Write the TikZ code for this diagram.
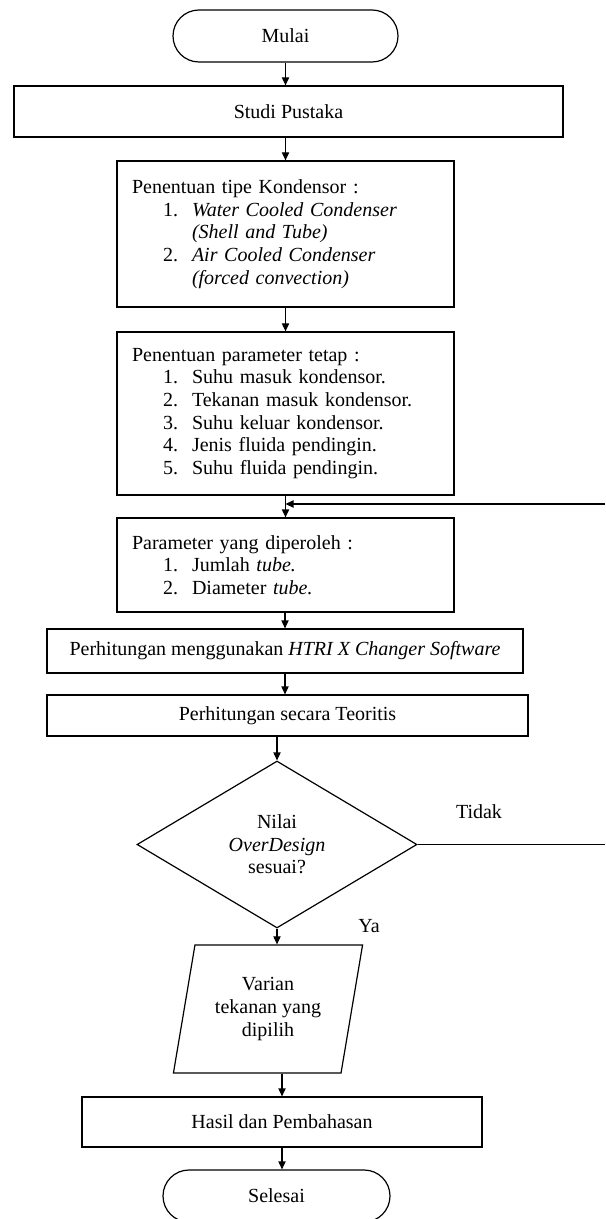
\documentclass[tikz,border=0pt]{standalone}
\usepackage{fontspec}
\setmainfont{Liberation Serif}
\usetikzlibrary{arrows.meta,shapes.geometric}
\newcommand{\butir}[2]{\hspace*{15.5pt}\makebox[14.5pt][l]{#1}#2}
\newcommand{\lanjut}[1]{\hspace*{30pt}#1}

\begin{document}
\begin{tikzpicture}[>={Triangle[length=4pt,width=3.6pt]}, x=0.5pt, y=-0.5pt,
    font=\fontsize{10pt}{11.3pt}\selectfont, line width=0.6pt,
    proses/.style={draw, rectangle, inner sep=0pt},
    daftar/.style={proses, minimum width=168.5pt, text width=153.5pt, align=left},
    terminal/.style={draw, rectangle, rounded corners=13pt, minimum height=26pt},
    keputusan/.style={draw, diamond, aspect=1.68, minimum width=140pt, minimum height=83.5pt, inner sep=0pt, align=center},
    masukan/.style={draw, trapezium, trapezium left angle=76, trapezium right angle=104,
      trapezium stretches=true, minimum width=95pt, minimum height=64pt, inner sep=0pt, align=center},
    panah/.style={->}]
  \clip (0,0) rectangle (605,1219);
  \useasboundingbox (0,0) rectangle (605,1219);
  % ---------------------------------------------------------------- alur utama
  \node[terminal, minimum width=112.5pt] (mulai) at (285.5,36) {Mulai};
  \node[proses, minimum width=274.5pt, minimum height=25.5pt] (studi) at (288.5,111.5) {Studi Pustaka};
  \node[daftar, minimum height=73pt] (tipe) at (285.5,234) {Penentuan tipe Kondensor :\\
    \butir{1.}{\textit{Water Cooled Condenser}}\\
    \lanjut{\textit{(Shell and Tube)}}\\
    \butir{2.}{\textit{Air Cooled Condenser}}\\
    \lanjut{\textit{(forced convection)}}};
  \node[daftar, minimum height=81.5pt] (tetap) at (285.5,413.5) {Penentuan parameter tetap :\\
    \butir{1.}{Suhu masuk kondensor.}\\
    \butir{2.}{Tekanan masuk kondensor.}\\
    \butir{3.}{Suhu keluar kondensor.}\\
    \butir{4.}{Jenis fluida pendingin.}\\
    \butir{5.}{Suhu fluida pendingin.}};
  \node[daftar, minimum height=47pt] (peroleh) at (285.5,565) {Parameter yang diperoleh :\\
    \butir{1.}{Jumlah \textit{tube.}}\\
    \butir{2.}{Diameter \textit{tube.}}};
  \node[proses, minimum width=238pt, minimum height=22pt] (htri) at (285,651)
    {Perhitungan menggunakan \textit{HTRI X Changer Software}};
  \node[proses, minimum width=240.5pt, minimum height=20.5pt] (teori) at (287.5,715.5) {Perhitungan secara Teoritis};
  \node[keputusan] (cek) at (277,844.5) {Nilai\\ \textit{OverDesign}\\ sesuai?};
  \node[masukan] (varian) at (268,1009) {Varian\\ tekanan yang\\ dipilih};
  \node[proses, minimum width=200pt, minimum height=25pt] (hasil) at (282,1122) {Hasil dan Pembahasan};
  \node[terminal, minimum width=113.5pt] (selesai) at (276.5,1196) {Selesai};
  % ---------------------------------------------------------------- label cabang
  \node (tidak) at (479,812) {Tidak};
  \node (ya) at (369,926) {Ya};
  % ---------------------------------------------------------------- panah
  \draw[panah] (mulai.south) -- (mulai.south |- studi.north);
  \draw[panah] (tipe.north |- studi.south) -- (tipe.north);
  \draw[panah] (tipe.south) -- (tetap.north);
  \draw[panah] (tetap.south) -- (peroleh.north);
  \draw[panah] (htri.north |- peroleh.south) -- (htri.north);
  \draw[panah] (htri.south) -- (htri.south |- teori.north);
  \draw[panah] (cek.north |- teori.south) -- (cek.north);
  \draw[panah] (cek.south) -- (cek.south |- varian.north);
  \draw[panah] (hasil.north |- varian.south) -- (hasil.north);
  \draw[panah] (hasil.south) -- (hasil.south |- selesai.north);
  % umpan balik jika tidak sesuai
  \coordinate (balik) at (605,504);
  \draw (cek.east) -- (cek.east -| balik);
  \draw[panah] (balik) -- (balik -| tetap.south);
\end{tikzpicture}
\end{document}
